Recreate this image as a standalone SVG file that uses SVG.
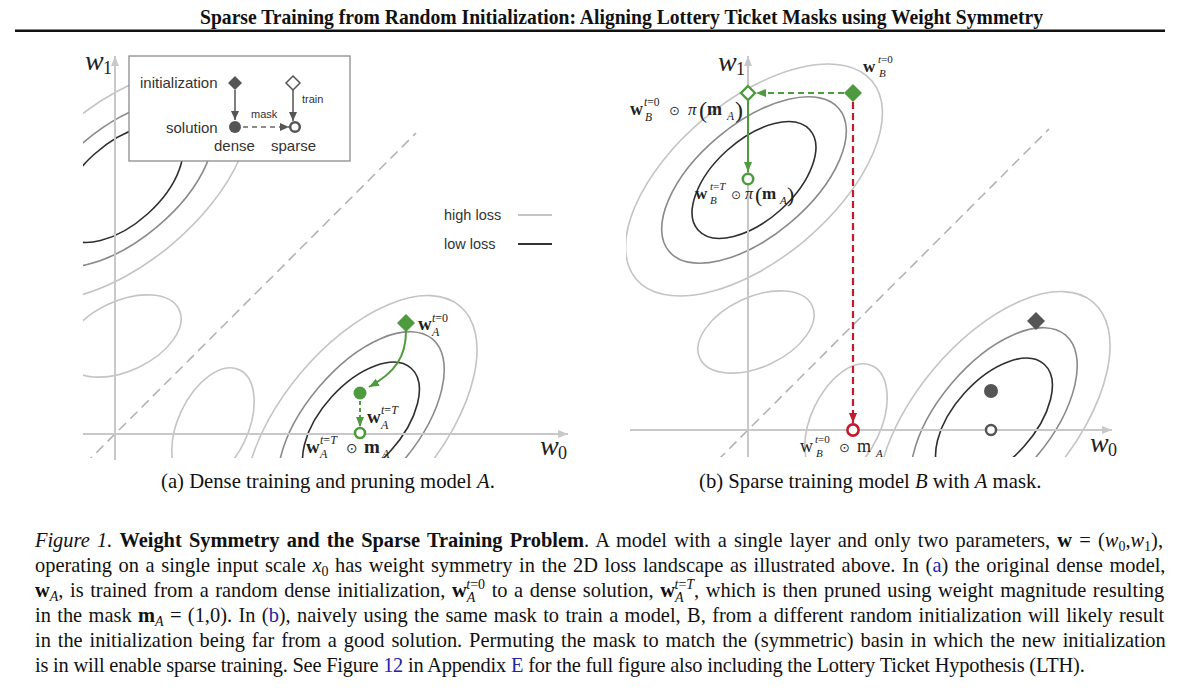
<svg xmlns="http://www.w3.org/2000/svg" xmlns:xlink="http://www.w3.org/1999/xlink" width="1200" height="695" viewBox="0 0 1200 695">
<style>
.c1{fill:none;stroke:#c4c4c4;stroke-width:1.6}
.c2{fill:none;stroke:#8a8a8a;stroke-width:1.6}
.c3{fill:none;stroke:#2e2e2e;stroke-width:1.6}
.diag{fill:none;stroke:#b0b0b0;stroke-width:1.5;stroke-dasharray:10 6}
.axis{fill:none;stroke:#c8c8c8;stroke-width:2}
.sans{font-family:"Liberation Sans",Arial,sans-serif;fill:#333}
.serif{font-family:"Liberation Serif","Times New Roman",serif;fill:#111}
.mb{font-family:"Liberation Serif",serif;font-weight:bold;fill:#222}
.mr{font-family:"Liberation Serif",serif;fill:#222}
.mi{font-family:"Liberation Serif",serif;font-style:italic;fill:#222}
.od{font-family:"DejaVu Sans",sans-serif;fill:#333}
.green{fill:#4e9a3e}
.blue{fill:#2323a8}
</style>
<defs>
<marker id="axArr" markerWidth="10" markerHeight="8" refX="10" refY="4" orient="auto" markerUnits="userSpaceOnUse"><path d="M0,0 L10,4 L0,8 z" fill="#c8c8c8"/></marker>
<marker id="gArr" markerWidth="10" markerHeight="8" refX="10" refY="4" orient="auto" markerUnits="userSpaceOnUse"><path d="M0,0 L10,4 L0,8 z" fill="#4e9a3e"/></marker>
<marker id="rArr" markerWidth="10" markerHeight="8" refX="10" refY="4" orient="auto" markerUnits="userSpaceOnUse"><path d="M0,0 L10,4 L0,8 z" fill="#c41a2f"/></marker>
<marker id="dArr" markerWidth="9" markerHeight="8" refX="9" refY="4" orient="auto" markerUnits="userSpaceOnUse"><path d="M0,0 L9,4 L0,8 z" fill="#555"/></marker>
<clipPath id="clipL"><rect x="83" y="40" width="492" height="418"/></clipPath>
<clipPath id="clipR"><rect x="626" y="40" width="514" height="417"/></clipPath>
<g id="land">
<ellipse class="c1" cx="6" cy="-250" rx="154" ry="79" transform="rotate(-40 6 -250)"/>
<ellipse class="c1" cx="246" cy="-10" rx="154" ry="79" transform="rotate(-50 246 -10)"/>
<ellipse class="c1" cx="8" cy="-98" rx="62" ry="35" transform="rotate(-25 8 -98)"/>
<ellipse class="c1" cx="98" cy="-8" rx="62" ry="35" transform="rotate(-65 98 -8)"/>
<ellipse class="c2" cx="6" cy="-250" rx="111" ry="56" transform="rotate(-40 6 -250)"/>
<ellipse class="c2" cx="246" cy="-10" rx="111" ry="56" transform="rotate(-50 246 -10)"/>
<ellipse class="c3" cx="6" cy="-250" rx="75" ry="40" transform="rotate(-42 6 -250)"/>
<ellipse class="c3" cx="246" cy="-10" rx="75" ry="40" transform="rotate(-48 246 -10)"/>
<line class="diag" x1="-30" y1="30" x2="301" y2="-301"/>
</g>
</defs>
<rect width="1200" height="695" fill="#fff"/>

<g id="title">
<text class="serif" x="200" y="24" font-size="22" font-weight="bold" textLength="843" lengthAdjust="spacingAndGlyphs">Sparse Training from Random Initialization: Aligning Lottery Ticket Masks using Weight Symmetry</text>
<rect x="15" y="29.5" width="1150" height="2.5" fill="#111"/>
</g>

<!-- Left panel -->
<g id="panelA-landscape" clip-path="url(#clipL)"><use xlink:href="#land" x="115" y="434"/></g>
<g id="panelA-axes">
<line class="axis" x1="115" y1="460" x2="115" y2="56" marker-end="url(#axArr)"/>
<line class="axis" x1="83" y1="434" x2="568" y2="434" marker-end="url(#axArr)"/>
<text class="mi" x="85" y="70" font-size="28">w</text><text class="mr" x="103" y="74" font-size="18">1</text>
<text class="mi" x="540" y="455" font-size="28">w</text><text class="mr" x="558" y="459" font-size="18">0</text>
</g>

<g id="legend-box">
<rect x="129" y="56" width="221" height="105" fill="#fff" stroke="#8c8c8c" stroke-width="1.3"/>
<text class="sans" x="140" y="88" font-size="15">initialization</text>
<text class="sans" x="166" y="133" font-size="15">solution</text>
<text class="sans" x="214" y="151" font-size="15">dense</text>
<text class="sans" x="271" y="151" font-size="15">sparse</text>
<text class="sans" x="302" y="103" font-size="11">train</text>
<text class="sans" x="251" y="118" font-size="11">mask</text>
<path d="M235,76 L242,83 L235,90 L228,83 z" fill="#555"/>
<path d="M293,76 L300,83 L293,90 L286,83 z" fill="#fff" stroke="#555" stroke-width="1.5"/>
<circle cx="235" cy="127" r="6" fill="#555"/>
<circle cx="295" cy="127" r="4.8" fill="#fff" stroke="#555" stroke-width="2.5"/>
<line x1="235" y1="90" x2="235" y2="120" stroke="#555" stroke-width="1.5" marker-end="url(#dArr)"/>
<line x1="293" y1="90" x2="293" y2="121" stroke="#555" stroke-width="1.5" marker-end="url(#dArr)"/>
<line x1="243" y1="127" x2="289" y2="127" stroke="#666" stroke-width="1.5" stroke-dasharray="5 4" marker-end="url(#dArr)"/>
</g>

<g id="legend-loss">
<text class="sans" x="444" y="220" font-size="14.5">high loss</text>
<line x1="518" y1="215" x2="552" y2="215" stroke="#c4c4c4" stroke-width="1.8"/>
<text class="sans" x="444" y="249" font-size="14.5">low loss</text>
<line x1="518" y1="244" x2="552" y2="244" stroke="#333" stroke-width="1.8"/>
</g>

<g id="A-init">
<path class="green" d="M406,314 L415,323 L406,332 L397,323 z"/>
<text class="mb" x="418" y="330" font-size="19">w</text>
<text class="mr" x="432" y="322" font-size="12"><tspan font-style="italic">t</tspan>=0</text>
<text class="mi" x="432" y="336" font-size="12">A</text>
</g>
<g id="A-solution">
<circle class="green" cx="360" cy="393" r="6.5"/>
<text class="mb" x="367" y="423" font-size="19">w</text>
<text class="mr" x="381" y="414" font-size="12"><tspan font-style="italic">t</tspan>=<tspan font-style="italic">T</tspan></text>
<text class="mi" x="381" y="429" font-size="12">A</text>
</g>
<g id="A-pruned">
<circle cx="360" cy="433" r="5" fill="#fff" stroke="#4e9a3e" stroke-width="2.6"/>
<text class="mb" x="306" y="453" font-size="19">w</text>
<text class="mr" x="320" y="444" font-size="12"><tspan font-style="italic">t</tspan>=<tspan font-style="italic">T</tspan></text>
<text class="mi" x="320" y="458" font-size="12">A</text>
<text class="od" x="346" y="453" font-size="14">⊙</text>
<text class="mb" x="364" y="453" font-size="19">m</text>
<text class="mi" x="382" y="458" font-size="12">A</text>
</g>

<g id="captionA"><text class="serif" x="161" y="488" font-size="20.7">(a) Dense training and pruning model <tspan font-style="italic">A</tspan>.</text></g>

<!-- Right panel -->
<g id="panelB-landscape" clip-path="url(#clipR)"><use xlink:href="#land" x="748" y="430"/></g>
<g id="panelB-axes">
<line class="axis" x1="748" y1="457" x2="748" y2="56" marker-end="url(#axArr)"/>
<line class="axis" x1="630" y1="430" x2="1112" y2="430" marker-end="url(#axArr)"/>
<text class="mi" x="718" y="71" font-size="28">w</text><text class="mr" x="736" y="75" font-size="18">1</text>
<text class="mi" x="1090" y="452" font-size="28">w</text><text class="mr" x="1108" y="456" font-size="18">0</text>
</g>

<g id="B-init">
<path class="green" d="M853,84 L862,93 L853,102 L844,93 z"/>
<text class="mb" x="863" y="72" font-size="17">w</text>
<text class="mr" x="878" y="63" font-size="11"><tspan font-style="italic">t</tspan>=0</text>
<text class="mi" x="879" y="77" font-size="11">B</text>
</g>
<g id="B-permuted-init">
<path d="M748,86 L755,93 L748,100 L741,93 z" fill="#fff" stroke="#4e9a3e" stroke-width="2.4"/>
<text class="mb" x="630" y="115" font-size="18">w</text>
<text class="mr" x="644" y="106" font-size="11.5"><tspan font-style="italic">t</tspan>=0</text>
<text class="mi" x="645" y="121" font-size="11.5">B</text>
<text class="od" x="669" y="115" font-size="13">⊙</text>
<text class="mi" x="688" y="115" font-size="17">π</text>
<text class="mr" x="699" y="118" font-size="24">(</text>
<text class="mb" x="707" y="115" font-size="18">m</text>
<text class="mi" x="727" y="120" font-size="11.5">A</text>
<text class="mr" x="735" y="118" font-size="24">)</text>
</g>
<g id="B-permuted-solution">
<circle cx="748" cy="179" r="5.2" fill="#fff" stroke="#4e9a3e" stroke-width="2.6"/>
<text class="mb" x="695" y="199" font-size="17">w</text>
<text class="mr" x="710" y="190" font-size="11"><tspan font-style="italic">t</tspan>=<tspan font-style="italic">T</tspan></text>
<text class="mi" x="710" y="204" font-size="11">B</text>
<text class="od" x="731" y="199" font-size="12">⊙</text>
<text class="mi" x="745" y="199" font-size="16">π</text>
<text class="mr" x="755" y="202" font-size="22">(</text>
<text class="mb" x="762" y="199" font-size="17">m</text>
<text class="mi" x="780" y="204" font-size="11">A</text>
<text class="mr" x="787" y="202" font-size="22">)</text>
</g>
<g id="B-naive-mask">
<circle cx="853" cy="430" r="5.6" fill="#fff" stroke="#c41a2f" stroke-width="2.6"/>
<text class="mr" x="800" y="452" font-size="18">w</text>
<text class="mr" x="815" y="443" font-size="11"><tspan font-style="italic">t</tspan>=0</text>
<text class="mi" x="816" y="457" font-size="11">B</text>
<text class="od" x="839" y="452" font-size="13">⊙</text>
<text class="mr" x="857" y="452" font-size="18">m</text>
<text class="mi" x="876" y="457" font-size="11">A</text>
</g>
<g id="A-markers-in-B">
<path d="M1036,312 L1045,321 L1036,330 L1027,321 z" fill="#555"/>
<circle cx="991" cy="391" r="7" fill="#555"/>
<circle cx="991" cy="430" r="5" fill="#fff" stroke="#555" stroke-width="2.5"/>
</g>

<g id="captionB"><text class="serif" x="699" y="488" font-size="20.7">(b) Sparse training model <tspan font-style="italic">B</tspan> with <tspan font-style="italic">A</tspan> mask.</text></g>

<g id="connectors">
<path d="M406,331 C406,356 396,372 369,387" fill="none" stroke="#4e9a3e" stroke-width="2" marker-end="url(#gArr)"/>
<line x1="360" y1="401" x2="360" y2="427" stroke="#4e9a3e" stroke-width="2" stroke-dasharray="4 3" marker-end="url(#gArr)"/>
<line x1="844" y1="93" x2="756" y2="93" stroke="#4e9a3e" stroke-width="2" stroke-dasharray="6 4" marker-end="url(#gArr)"/>
<line x1="748" y1="101" x2="748" y2="172" stroke="#4e9a3e" stroke-width="2" marker-end="url(#gArr)"/>
<line x1="853" y1="102" x2="853" y2="423" stroke="#c41a2f" stroke-width="2.2" stroke-dasharray="7 4" marker-end="url(#rArr)"/>
</g>

<g id="figure-caption" class="serif" font-size="20.4">
<text x="35" y="547" word-spacing="2.1"><tspan font-style="italic">Figure 1.</tspan> <tspan font-weight="bold">Weight Symmetry and the Sparse Training Problem</tspan>. A model with a single layer and only two parameters, <tspan font-weight="bold">w</tspan> = (<tspan font-style="italic">w</tspan><tspan font-size="14" dy="4">0</tspan><tspan dy="-4">,</tspan><tspan font-style="italic">w</tspan><tspan font-size="14" dy="4">1</tspan><tspan dy="-4">),</tspan></text>
<text x="35" y="572" word-spacing="1.5">operating on a single input scale <tspan font-style="italic">x</tspan><tspan font-size="14" dy="4">0</tspan><tspan dy="-4"> has weight symmetry in the 2D loss landscape as illustrated above. In (</tspan><tspan class="blue">a</tspan>) the original dense model,</text>
<text x="35" y="597" word-spacing="1.5"><tspan font-weight="bold">w</tspan><tspan font-size="14" font-style="italic" dy="4">A</tspan><tspan dy="-4">, is trained from a random dense initialization, </tspan><tspan font-weight="bold">w</tspan><tspan font-size="14" font-style="italic" dy="5">A</tspan><tspan font-size="14" dx="-9" dy="-13"><tspan font-style="italic">t</tspan>=0</tspan><tspan dy="8"> to a dense solution, </tspan><tspan font-weight="bold">w</tspan><tspan font-size="14" font-style="italic" dy="5">A</tspan><tspan font-size="14" dx="-9" dy="-13"><tspan font-style="italic">t</tspan>=<tspan font-style="italic">T</tspan></tspan><tspan dy="8">, which is then pruned using weight magnitude resulting</tspan></text>
<text x="35" y="622" word-spacing="1.3">in the mask <tspan font-weight="bold">m</tspan><tspan font-size="14" font-style="italic" dy="4">A</tspan><tspan dy="-4"> = (1,0). In (</tspan><tspan class="blue">b</tspan>), naively using the same mask to train a model, B, from a different random initialization will likely result</text>
<text x="35" y="647" word-spacing="1.8">in the initialization being far from a good solution. Permuting the mask to match the (symmetric) basin in which the new initialization</text>
<text x="35" y="672" letter-spacing="-0.2">is in will enable sparse training. See Figure <tspan class="blue">12</tspan> in Appendix <tspan class="blue">E</tspan> for the full figure also including the Lottery Ticket Hypothesis (LTH).</text>
</g>
</svg>
